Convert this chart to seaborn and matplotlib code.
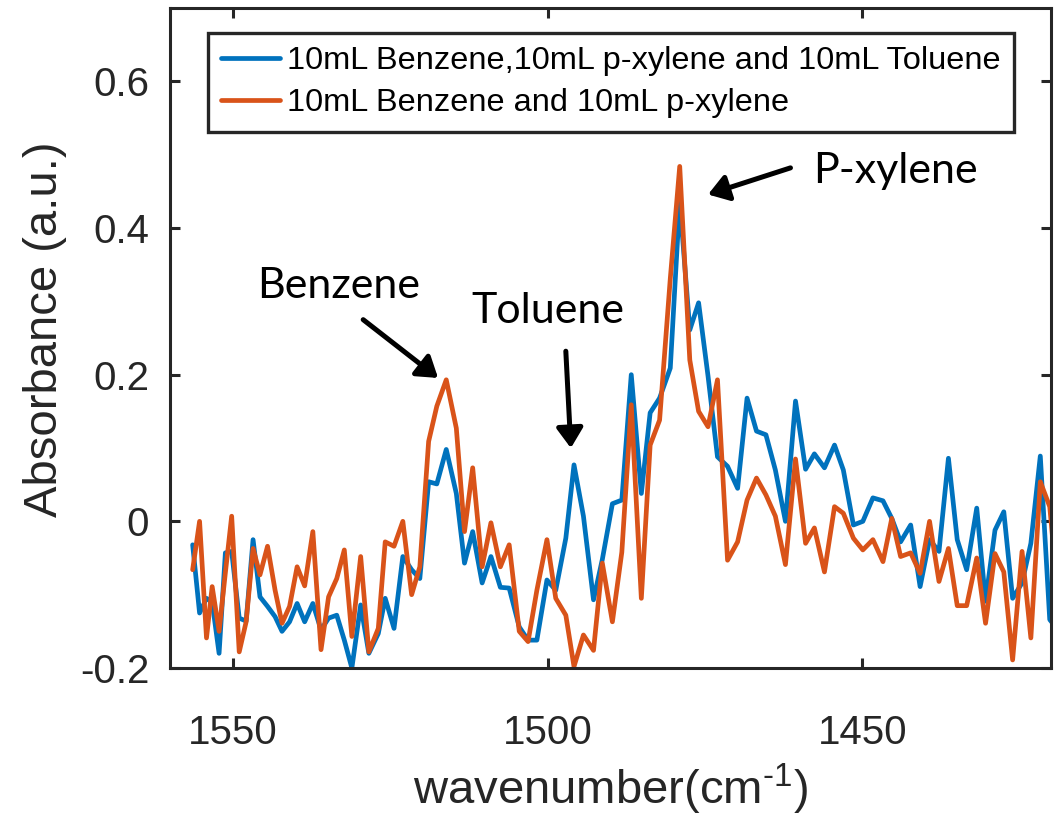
import numpy as np
import pandas as pd
import matplotlib
matplotlib.use("Agg")
import matplotlib.pyplot as plt
from matplotlib.lines import Line2D
import seaborn as sns

# Wavenumber grid of the spectrometer (cm^-1)
wavenumber = [
    1556.4, 1555.3, 1554.2, 1553.3, 1552.2, 1551.2, 1550.2, 1549.0, 1547.9, 1546.8,
    1545.7, 1544.5, 1543.3, 1542.2, 1541.0, 1539.8, 1538.6, 1537.3, 1536.0, 1534.8,
    1533.5, 1532.3, 1531.1, 1529.7, 1528.4, 1526.9, 1525.8, 1524.4, 1523.0, 1521.6,
    1520.3, 1518.9, 1517.6, 1516.1, 1514.5, 1513.2, 1511.9, 1510.4, 1509.0, 1507.5,
    1506.1, 1504.5, 1503.1, 1501.7, 1500.1, 1498.7, 1497.1, 1495.8, 1494.3, 1492.7,
    1491.3, 1489.7, 1488.2, 1486.7, 1485.1, 1483.7, 1482.2, 1480.5, 1479.0, 1477.4,
    1476.0, 1474.5, 1473.0, 1471.4, 1469.8, 1468.3, 1466.8, 1465.3, 1463.8, 1462.2,
    1460.6, 1459.0, 1457.6, 1456.0, 1454.4, 1453.0, 1451.4, 1449.9, 1448.3, 1446.7,
    1445.3, 1443.9, 1442.3, 1440.8, 1439.3, 1437.8, 1436.3, 1434.9, 1433.4, 1431.8,
    1430.4, 1428.9, 1427.5, 1426.1, 1424.6, 1423.2, 1421.7, 1420.2, 1418.7,
]

# Benzene + p-xylene + toluene mixture
abs_three = [
    -0.032, -0.125, -0.105, -0.110, -0.180, -0.043, -0.041, -0.132, -0.136, -0.025,
    -0.103, -0.116, -0.130, -0.150, -0.137, -0.112, -0.137, -0.112, -0.148, -0.132,
    -0.128, -0.162, -0.200, -0.114, -0.180, -0.153, -0.105, -0.146, -0.048, -0.066,
    -0.078, 0.054, 0.051, 0.098, 0.038, -0.057, -0.014, -0.084, -0.048, -0.090,
    -0.091, -0.144, -0.162, -0.162, -0.080, -0.094, -0.023, 0.077, 0.007, -0.107,
    -0.052, 0.024, 0.029, 0.200, 0.038, 0.148, 0.168, 0.209, 0.437, 0.261,
    0.298, 0.198, 0.088, 0.075, 0.045, 0.168, 0.123, 0.118, 0.070, 0.000,
    0.164, 0.071, 0.092, 0.073, 0.104, 0.070, -0.005, 0.000, 0.032, 0.028,
    0.004, -0.028, -0.005, -0.089, -0.025, -0.041, 0.086, -0.025, -0.066, 0.018,
    -0.109, -0.012, 0.013, -0.105, -0.084, -0.030, 0.089, -0.134, -0.150,
]

# Benzene + p-xylene mixture
abs_two = [
    -0.066, 0.000, -0.159, -0.089, -0.150, -0.070, 0.007, -0.178, -0.137, -0.037,
    -0.073, -0.034, -0.094, -0.139, -0.116, -0.062, -0.088, -0.014, -0.175, -0.103,
    -0.078, -0.039, -0.157, -0.048, -0.178, -0.146, -0.028, -0.034, 0.000, -0.100,
    -0.062, 0.109, 0.157, 0.193, 0.127, -0.014, 0.073, -0.062, -0.002, -0.062,
    -0.032, -0.150, -0.164, -0.094, -0.025, -0.105, -0.128, -0.198, -0.155, -0.176,
    -0.057, -0.137, -0.042, 0.159, -0.105, 0.104, 0.138, 0.331, 0.484, 0.220,
    0.150, 0.129, 0.193, -0.053, -0.028, 0.029, 0.059, 0.036, 0.007, -0.059,
    0.085, -0.030, -0.009, -0.069, 0.020, 0.011, -0.023, -0.039, -0.025, -0.055,
    0.004, -0.048, -0.043, -0.071, 0.000, -0.082, -0.037, -0.115, -0.115, -0.050,
    -0.139, -0.044, -0.069, -0.189, -0.041, -0.159, 0.054, 0.020, -0.120,
]

series_labels = [
    "10mL Benzene,10mL p-xylene and 10mL Toluene",
    "10mL Benzene and 10mL p-xylene",
]
x_ticks = [1550, 1500, 1450]
y_ticks = [-0.2, 0, 0.2, 0.4, 0.6]
y_tick_labels = ["-0.2", "0", "0.2", "0.4", "0.6"]

BLUE = "#0072BD"
ORANGE = "#D95319"
INK = "#262626"
LW = 3.4

sns.set_theme(style="white")
plt.rcParams["font.family"] = ["Liberation Sans", "DejaVu Sans"]
plt.rcParams["axes.unicode_minus"] = False
plt.rcParams["mathtext.fontset"] = "custom"
plt.rcParams["mathtext.rm"] = "Liberation Sans"
plt.rcParams["mathtext.default"] = "regular"

df = pd.DataFrame({
    "wavenumber": wavenumber * 2,
    "absorbance": abs_three + abs_two,
    "sample": [series_labels[0]] * len(wavenumber) + [series_labels[1]] * len(wavenumber),
})

fig = plt.figure(figsize=(10.59, 8.16), dpi=100)
ax = fig.add_axes([170 / 1059, 1 - 668 / 816, 881 / 1059, 660 / 816])

sns.lineplot(data=df, x="wavenumber", y="absorbance", hue="sample",
             hue_order=series_labels, palette=[BLUE, ORANGE],
             estimator=None, sort=False, linewidth=LW, legend=False, ax=ax)

ax.set_xlim(1560, 1420)
ax.set_ylim(-0.2, 0.7)
ax.set_xticks(x_ticks)
ax.set_xticklabels([str(t) for t in x_ticks])
ax.set_yticks(y_ticks)
ax.set_yticklabels(y_tick_labels)

for sp in ax.spines.values():
    sp.set_visible(True)
    sp.set_color(INK)
    sp.set_linewidth(2.2)

ax.tick_params(axis="both", which="major", direction="in", length=7, width=2.2,
               color=INK, labelcolor=INK, labelsize=29,
               top=True, right=True, bottom=True, left=True)
ax.tick_params(axis="x", pad=33)
ax.tick_params(axis="y", pad=15)

ax.set_xlabel(r"wavenumber(cm$^{\text{-}1}$)", fontsize=34, color=INK)
ax.set_ylabel("Absorbance (a.u.)", fontsize=34, color=INK)
ax.xaxis.set_label_coords(0.5, -0.142)
ax.yaxis.set_label_coords(-0.117, 0.514)

handles = [Line2D([0], [0], color=BLUE, lw=LW), Line2D([0], [0], color=ORANGE, lw=LW)]
leg = ax.legend(handles, series_labels, loc="upper left",
                bbox_to_anchor=(0.0428, 0.9626), borderaxespad=0,
                fontsize=23.4, handlelength=1.8, handletextpad=0.22,
                labelspacing=0.36, borderpad=0.42, fancybox=False,
                framealpha=1, edgecolor=INK)
leg.get_frame().set_linewidth(2.4)
for t in leg.get_texts():
    t.set_color("black")

# Peak annotations
arrow = dict(arrowstyle="-|>,head_length=0.6,head_width=0.4", lw=3.6,
             color="black", mutation_scale=20, shrinkA=0, shrinkB=0)
ax.annotate("", xy=(1517.4, 0.1955), xytext=(1529.3, 0.275), arrowprops=arrow)
ax.annotate("", xy=(1496.3, 0.0999), xytext=(1497.1, 0.232), arrowprops=arrow)
ax.annotate("", xy=(1474.5, 0.4457), xytext=(1461.4, 0.482), arrowprops=arrow)

label_font = dict(fontsize=31, family=["Lato", "DejaVu Sans"], color="black",
                  ha="left", va="baseline")
ax.text(1546.2, 0.305, "Benzene", **label_font)
ax.text(1512.1, 0.2706, "Toluene", **label_font)
ax.text(1457.8, 0.4617, "P-xylene", **label_font)

fig.savefig("out.png", dpi=100, facecolor="white")
